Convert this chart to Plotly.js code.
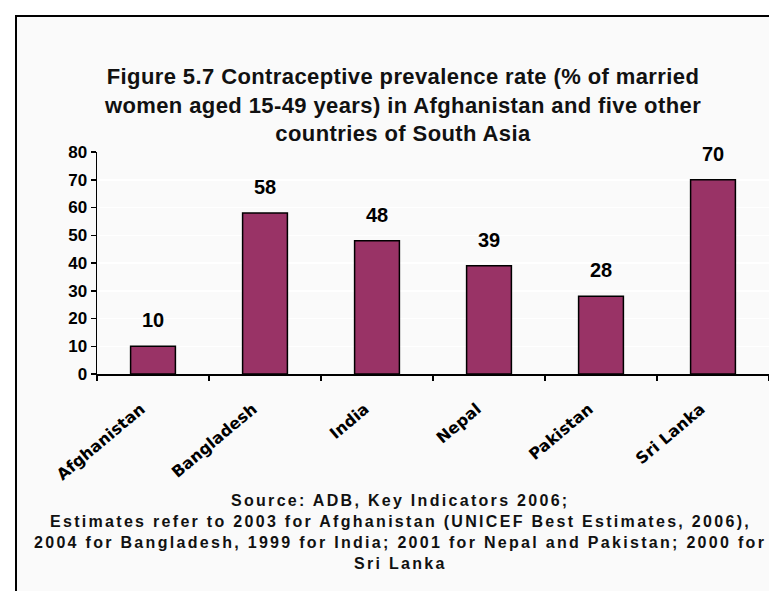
<!DOCTYPE html>
<html>
<head>
<meta charset="utf-8">
<script src="https://cdn.plot.ly/plotly-3.0.1.min.js"></script>
<style>
  html, body { margin: 0; padding: 0; background: #ffffff; }
  #chart { width: 769px; height: 591px; }
</style>
</head>
<body>
<div id="chart"></div>
<script>
// ---- Data ----
const countries = ["Afghanistan", "Bangladesh", "India", "Nepal", "Pakistan", "Sri Lanka"];
const prevalence = [10, 58, 48, 39, 28, 70];
const yTickValues = [0, 10, 20, 30, 40, 50, 60, 70, 80];

const titleLines = [
  "Figure 5.7 Contraceptive prevalence rate (% of married",
  "women aged 15-49 years) in Afghanistan and five other",
  "countries of South Asia"
];
const sourceLines = [
  "Source: ADB, Key Indicators 2006;",
  "Estimates refer to 2003 for Afghanistan (UNICEF Best Estimates, 2006),",
  "2004 for Bangladesh, 1999 for India; 2001 for Nepal and Pakistan; 2000 for",
  "Sri Lanka"
];

const barColor = "#993366";
const boldFont = "Liberation Sans, Arial, sans-serif";

function spaced(s, px) {
  return '<span style="letter-spacing:' + px + 'px">' + s + '</span>';
}

const trace = {
  type: "bar",
  x: countries,
  y: prevalence,
  marker: { color: barColor, line: { color: "#000000", width: 1.5 } },
  hoverinfo: "x+y",
  showlegend: false
};

const valueLabels = countries.map((c, i) => ({
  x: c, y: prevalence[i], xref: "x", yref: "y",
  text: "<b>" + prevalence[i] + "</b>",
  showarrow: false, yanchor: "middle", yshift: 26,
  font: { family: boldFont, size: 20, color: "#000000" }
}));

const layout = {
  width: 769, height: 591,
  paper_bgcolor: "#ffffff",
  plot_bgcolor: "#f8f8f8",
  margin: { l: 97, r: 0, t: 152, b: 217 },
  bargap: 0.6,
  title: {
    text: "<b>" + titleLines.map(s => spaced(s, 0.4)).join("<br>") + "</b>",
    font: { family: boldFont, size: 22, color: "#111111" },
    x: 403 / 769, xref: "container", xanchor: "center",
    y: 1 - 84 / 591, yref: "container", yanchor: "top"
  },
  xaxis: {
    type: "category",
    tickvals: countries,
    ticktext: countries.map(s => "<b>" + s + "</b>"),
    tickangle: -40,
    tickson: "boundaries",
    ticks: "outside", ticklen: 5, tickcolor: "#000000", tickwidth: 1.5,
    showline: true, linecolor: "#000000", linewidth: 1.5,
    showgrid: false,
    ticklabelstandoff: 18,
    ticklabelshift: -12,
    tickfont: { family: "DejaVu Sans, sans-serif", size: 16, color: "#000000" }
  },
  yaxis: {
    range: [0, 80],
    tickvals: yTickValues,
    ticks: "outside", ticklen: 5, tickcolor: "#000000", tickwidth: 1.5,
    showline: true, linecolor: "#000000", linewidth: 1.5,
    showgrid: true, gridcolor: "#ffffff", gridwidth: 1.5,
    zeroline: false,
    tickfont: { family: boldFont, size: 17, color: "#000000", weight: "bold" }
  },
  shapes: [
    {
      type: "rect", xref: "paper", yref: "paper", layer: "below",
      x0: -81 / 672, x1: 1.2, y0: -1.2, y1: 1 + 136 / 222,
      line: { color: "#000000", width: 2 }, fillcolor: "#fafafa"
    }
  ],
  annotations: valueLabels.concat(sourceLines.map((s, i) => ({
    text: "<b>" + spaced(s, 2.3) + "</b>",
    xref: "paper", yref: "paper",
    x: (400 - 97) / 672, y: (374 - 500 - 21 * i) / 222,
    xanchor: "center", yanchor: "middle", align: "center",
    showarrow: false,
    font: { family: boldFont, size: 16, color: "#111111" }
  })))
};

Plotly.newPlot("chart", [trace], layout, { displayModeBar: false, staticPlot: true });
</script>
</body>
</html>
